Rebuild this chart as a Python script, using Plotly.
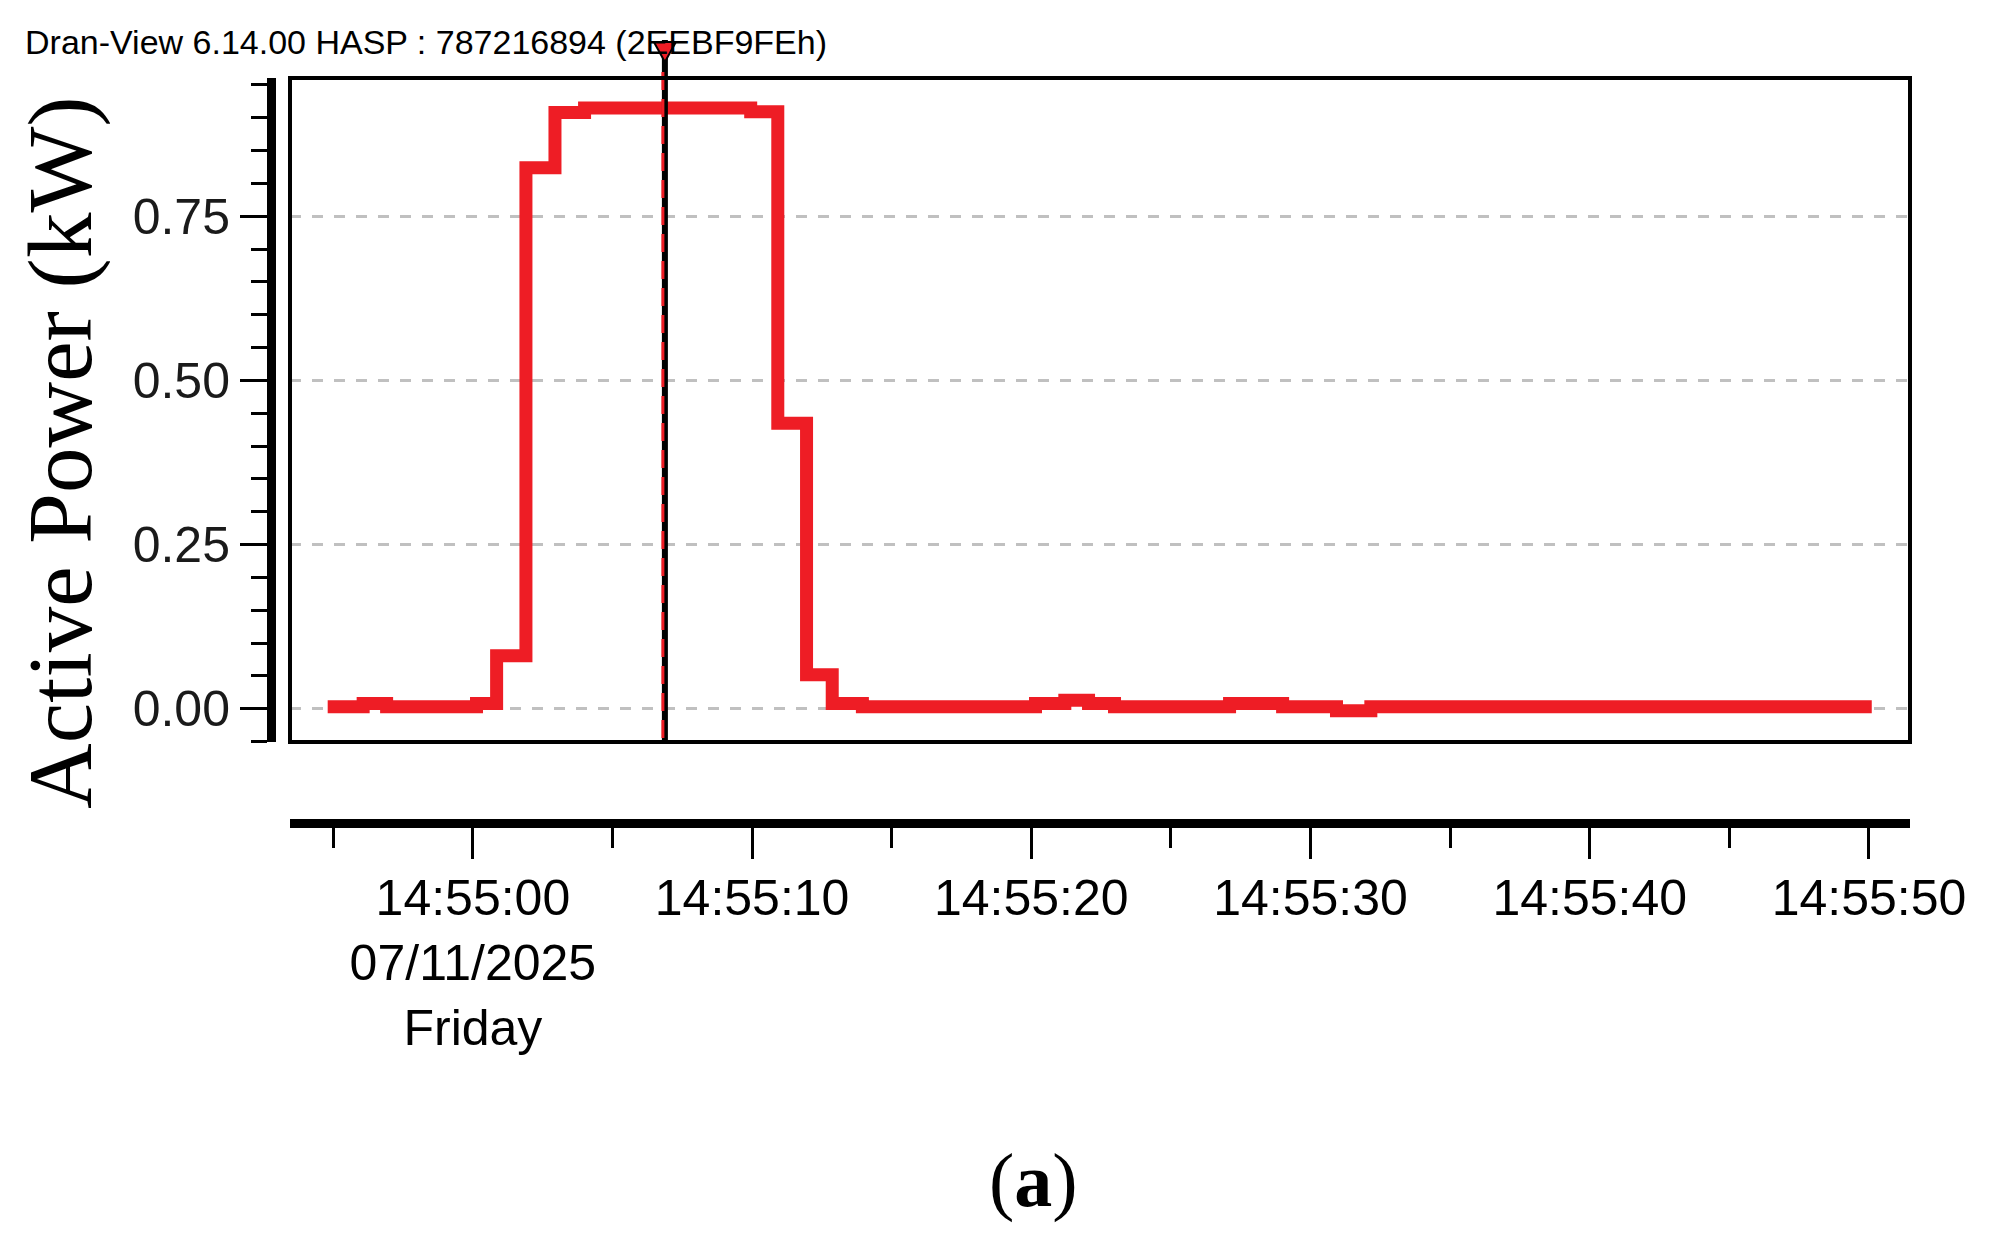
import plotly.graph_objects as go

# ---- data ----
DATE = "2025-07-11"
step_times = ["14:54:54.80", "14:54:56.07", "14:54:56.91", "14:55:00.13", "14:55:00.85",
              "14:55:01.90", "14:55:02.94", "14:55:04.00", "14:55:09.95", "14:55:10.92",
              "14:55:11.95", "14:55:12.87", "14:55:13.95", "14:55:20.15", "14:55:21.20",
              "14:55:22.05", "14:55:22.98", "14:55:27.10", "14:55:29.00", "14:55:30.93",
              "14:55:32.16", "14:55:50.10"]
power_kw = [0.003, 0.008, 0.003, 0.008, 0.081,
            0.824, 0.908, 0.915, 0.909, 0.435,
            0.052, 0.008, 0.003, 0.008, 0.013,
            0.008, 0.003, 0.008, 0.003, -0.003,
            0.003, 0.003]

x_tick_times = ["14:55:00", "14:55:10", "14:55:20", "14:55:30", "14:55:40", "14:55:50"]
x_tick_text = ["14:55:00<br>07/11/2025<br>Friday", "14:55:10", "14:55:20",
               "14:55:30", "14:55:40", "14:55:50"]
x_minor_times = ["14:54:55", "14:55:05", "14:55:15", "14:55:25", "14:55:35", "14:55:45"]
y_tick_vals = [0.0, 0.25, 0.5, 0.75]
y_tick_text = ["0.00", "0.25", "0.50", "0.75"]
x_range_times = ["14:54:53.45", "14:55:51.47"]
y_range = [-0.0505, 0.9605]
cursor_time = "14:55:06.877"
cursor_red_time = "14:55:06.805"

header_text = "Dran-View 6.14.00 HASP : 787216894 (2EEBF9FEh)"
y_title = "Active Power (kW)"
panel_label = "(<b>a</b>)"


def ts(t):
    return f"{DATE} {t}"


x_vals = [ts(t) for t in step_times]

# ---- layout geometry (page pixels; the page body has an 8px margin) ----
OFF = 8
W, H = 1990 - 2 * OFF, 1244 - 2 * OFF
axis_x_px, right_px, top_px, axis_y_px = 271, 1910, 78, 823
ml = axis_x_px - OFF
mt = top_px - OFF
mr = W - (right_px - OFF)
mb = H - (axis_y_px - OFF)
pw = W - ml - mr
ph = H - mt - mb
box_left = 290
box_bottom = 742


def px_x(x):
    return (x - OFF - ml) / pw


def px_y(y):
    return (H - mb - (y - OFF)) / ph


xd0 = px_x(box_left)
yd0 = px_y(box_bottom)

fig = go.Figure()

fig.add_trace(go.Scatter(
    x=x_vals, y=power_kw, mode="lines",
    line=dict(shape="hv", color="#EE1D25", width=13),
    showlegend=False, hoverinfo="skip",
))

# cursor lines
fig.add_shape(type="line", xref="x", yref="paper",
              x0=ts(cursor_time), x1=ts(cursor_time),
              y0=yd0, y1=px_y(40), line=dict(color="black", width=6))
fig.add_shape(type="line", xref="x", yref="paper",
              x0=ts(cursor_red_time), x1=ts(cursor_red_time),
              y0=px_y(738), y1=px_y(63), line=dict(color="#EE1D25", width=3, dash="18px,9px"))
# cursor marker (downward triangle above the plot)
fig.add_shape(type="path", xref="x", yref="paper",
              xsizemode="pixel", ysizemode="pixel",
              xanchor=ts(cursor_time), yanchor=px_y(50),
              path="M -11,8 L 11,8 L 0,-12 Z",
              fillcolor="#EE1D25", line=dict(color="black", width=2))

# plot box
fig.add_shape(type="rect", xref="paper", yref="paper",
              x0=xd0, x1=1, y0=yd0, y1=1,
              line=dict(color="black", width=4), layer="above")

fig.update_layout(
    width=W, height=H,
    margin=dict(l=ml, r=mr, t=mt, b=mb, pad=0),
    paper_bgcolor="white", plot_bgcolor="white",
    font=dict(family="Liberation Sans, Arial, sans-serif", color="black"),
    xaxis=dict(
        type="date", domain=[xd0, 1], range=[ts(t) for t in x_range_times],
        anchor="free", position=0,
        showline=True, linecolor="black", linewidth=9,
        ticks="outside", ticklen=31, tickwidth=3, tickcolor="black",
        tickmode="array", tickvals=[ts(t) for t in x_tick_times], ticktext=x_tick_text,
        tickfont=dict(size=50, family="Liberation Sans, Arial, sans-serif", color="black"),
        ticklabelstandoff=-4,
        showgrid=False, zeroline=False,
        minor=dict(tickmode="array", tickvals=[ts(t) for t in x_minor_times],
                   ticks="outside", ticklen=20, tickwidth=3, tickcolor="black", showgrid=False),
    ),
    yaxis=dict(
        domain=[yd0, 1], range=y_range,
        anchor="free", position=0,
        showline=True, linecolor="black", linewidth=9,
        ticks="outside", ticklen=27, tickwidth=3, tickcolor="black",
        tickmode="array", tickvals=y_tick_vals, ticktext=y_tick_text,
        tickfont=dict(size=50, family="Liberation Sans, Arial, sans-serif", color="#1a1a1a"),
        showgrid=True, gridcolor="#c0c0c0", gridwidth=3, griddash="11px,11px",
        zeroline=False,
        minor=dict(tick0=0, dtick=0.05, ticks="outside", ticklen=16, tickwidth=3,
                   tickcolor="black", showgrid=False),
    ),
    annotations=[
        dict(text=header_text, xref="paper", yref="paper", x=px_x(23), y=px_y(42),
             xanchor="left", yanchor="middle", showarrow=False,
             font=dict(size=34, family="Liberation Sans, Arial, sans-serif", color="black")),
        dict(text=y_title, xref="paper", yref="paper", x=px_x(60), y=px_y(453),
             xanchor="center", yanchor="middle", textangle=-90, showarrow=False,
             height=100,
             font=dict(size=91, family="Liberation Serif, Times New Roman, serif", color="black")),
        dict(text=panel_label, xref="paper", yref="paper", x=px_x(1033), y=px_y(1180),
             xanchor="center", yanchor="middle", showarrow=False,
             font=dict(size=76, family="Liberation Serif, Times New Roman, serif", color="black")),
    ],
)

fig.write_html("out.html")
